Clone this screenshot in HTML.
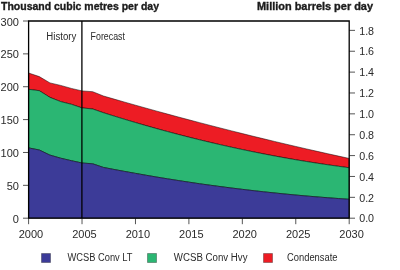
<!DOCTYPE html>
<html><head><meta charset="utf-8"><style>
html,body{margin:0;padding:0;background:#fff;width:400px;height:270px;overflow:hidden}
svg{display:block;will-change:transform}
text{font-family:"Liberation Sans",sans-serif;fill:#2a2a2a}
</style></head><body>
<svg width="400" height="270" viewBox="0 0 400 270">
<polygon points="28.60,73.00 39.29,76.60 49.97,82.90 60.66,85.40 71.35,88.40 82.03,90.90 92.72,91.70 103.41,95.98 114.09,99.08 124.78,102.15 135.47,105.18 146.15,108.18 156.84,111.14 167.53,114.07 178.21,116.96 188.90,119.82 199.59,122.64 210.27,125.42 220.96,128.18 231.65,130.89 242.33,133.57 253.02,136.22 263.71,138.82 274.39,141.40 285.08,143.94 295.77,146.44 306.45,148.91 317.14,151.34 327.83,153.74 338.51,156.10 349.20,158.43 349.20,167.72 338.51,166.30 327.83,164.80 317.14,163.20 306.45,161.52 295.77,159.75 285.08,157.89 274.39,155.94 263.71,153.90 253.02,151.77 242.33,149.56 231.65,147.26 220.96,144.87 210.27,142.39 199.59,139.82 188.90,137.16 178.21,134.42 167.53,131.58 156.84,128.66 146.15,125.65 135.47,122.56 124.78,119.37 114.09,116.09 103.41,112.73 92.72,109.00 82.03,107.90 71.35,104.30 60.66,101.60 49.97,97.40 39.29,90.70 28.60,89.30" fill="#ed1c24" stroke="#000" stroke-opacity="0.55" stroke-width="0.9"/>
<polygon points="28.60,89.30 39.29,90.70 49.97,97.40 60.66,101.60 71.35,104.30 82.03,107.90 92.72,109.00 103.41,112.73 114.09,116.09 124.78,119.37 135.47,122.56 146.15,125.65 156.84,128.66 167.53,131.58 178.21,134.42 188.90,137.16 199.59,139.82 210.27,142.39 220.96,144.87 231.65,147.26 242.33,149.56 253.02,151.77 263.71,153.90 274.39,155.94 285.08,157.89 295.77,159.75 306.45,161.52 317.14,163.20 327.83,164.80 338.51,166.30 349.20,167.72 349.20,199.29 338.51,198.55 327.83,197.76 317.14,196.91 306.45,196.01 295.77,195.04 285.08,194.02 274.39,192.94 263.71,191.80 253.02,190.61 242.33,189.35 231.65,188.04 220.96,186.67 210.27,185.24 199.59,183.76 188.90,182.17 178.21,180.53 167.53,178.83 156.84,177.08 146.15,175.26 135.47,173.39 124.78,171.46 114.09,169.47 103.41,167.43 92.72,163.80 82.03,163.00 71.35,160.70 60.66,158.20 49.97,155.10 39.29,150.00 28.60,147.90" fill="#2bb673" stroke="#000" stroke-opacity="0.55" stroke-width="0.9"/>
<polygon points="28.60,147.90 39.29,150.00 49.97,155.10 60.66,158.20 71.35,160.70 82.03,163.00 92.72,163.80 103.41,167.43 114.09,169.47 124.78,171.46 135.47,173.39 146.15,175.26 156.84,177.08 167.53,178.83 178.21,180.53 188.90,182.17 199.59,183.76 210.27,185.24 220.96,186.67 231.65,188.04 242.33,189.35 253.02,190.61 263.71,191.80 274.39,192.94 285.08,194.02 295.77,195.04 306.45,196.01 317.14,196.91 327.83,197.76 338.51,198.55 349.20,199.29 349.20,218.20 28.60,218.20" fill="#3c3b98" stroke="#000" stroke-opacity="0.55" stroke-width="0.9"/>
<text x="18.9" y="223" text-anchor="end" font-size="11">0</text>
<text x="18.9" y="190" text-anchor="end" font-size="11">50</text>
<text x="18.9" y="157" text-anchor="end" font-size="11">100</text>
<text x="18.9" y="124" text-anchor="end" font-size="11">150</text>
<text x="18.9" y="91" text-anchor="end" font-size="11">200</text>
<text x="18.9" y="58" text-anchor="end" font-size="11">250</text>
<text x="18.9" y="26" text-anchor="end" font-size="11">300</text>
<text x="359.2" y="222" font-size="10.7">0.0</text>
<text x="359.2" y="202" font-size="10.7">0.2</text>
<text x="359.2" y="181" font-size="10.7">0.4</text>
<text x="359.2" y="160" font-size="10.7">0.6</text>
<text x="359.2" y="139" font-size="10.7">0.8</text>
<text x="359.2" y="118" font-size="10.7">1.0</text>
<text x="359.2" y="97" font-size="10.7">1.2</text>
<text x="359.2" y="76" font-size="10.7">1.4</text>
<text x="359.2" y="55" font-size="10.7">1.6</text>
<text x="359.2" y="35" font-size="10.7">1.8</text>
<text x="31.00" y="238" text-anchor="middle" font-size="11">2000</text>
<text x="84.43" y="238" text-anchor="middle" font-size="11">2005</text>
<text x="137.87" y="238" text-anchor="middle" font-size="11">2010</text>
<text x="191.30" y="238" text-anchor="middle" font-size="11">2015</text>
<text x="244.73" y="238" text-anchor="middle" font-size="11">2020</text>
<text x="298.17" y="238" text-anchor="middle" font-size="11">2025</text>
<text x="351.60" y="238" text-anchor="middle" font-size="11">2030</text>
<path d="M23,218.20 H28.6 M23,185.33 H28.6 M23,152.47 H28.6 M23,119.60 H28.6 M23,86.73 H28.6 M23,53.87 H28.6 M23,21.00 H28.6 M349.2,218.20 H355 M349.2,197.33 H355 M349.2,176.46 H355 M349.2,155.59 H355 M349.2,134.72 H355 M349.2,113.85 H355 M349.2,92.98 H355 M349.2,72.11 H355 M349.2,51.24 H355 M349.2,30.37 H355 M28.60,218.2 V224.2 M82.03,218.2 V224.2 M135.47,218.2 V224.2 M188.90,218.2 V224.2 M242.33,218.2 V224.2 M295.77,218.2 V224.2 M349.20,218.2 V224.2" stroke="#555" stroke-width="1"/>
<path d="M28.6,21.0 H349.2 V218.2 H28.6 Z" fill="none" stroke="#000" stroke-width="1.3"/>
<path d="M81.9,21.0 V218.2" stroke="#000" stroke-width="1.3"/>
<text x="1" y="9.8" font-size="10.5" font-weight="bold" style="fill:#1c1c1c;stroke:#1c1c1c;stroke-width:0.35" textLength="158" lengthAdjust="spacingAndGlyphs">Thousand cubic metres per day</text>
<text x="373" y="10" font-size="10.5" font-weight="bold" style="fill:#1c1c1c;stroke:#1c1c1c;stroke-width:0.35" text-anchor="end" textLength="116" lengthAdjust="spacingAndGlyphs">Million barrels per day</text>
<text x="46.3" y="39.5" font-size="10" textLength="30" lengthAdjust="spacingAndGlyphs">History</text>
<text x="90.6" y="39.5" font-size="10" textLength="34.3" lengthAdjust="spacingAndGlyphs">Forecast</text>
<rect x="41.5" y="253.5" width="9" height="9" fill="#3c3b98" stroke="#000" stroke-opacity="0.3" stroke-width="1"/>
<rect x="147.5" y="253.5" width="9" height="9" fill="#2bb673" stroke="#000" stroke-opacity="0.3" stroke-width="1"/>
<rect x="263.5" y="253.5" width="9" height="9" fill="#ed1c24" stroke="#000" stroke-opacity="0.3" stroke-width="1"/>
<text x="67.5" y="260.8" font-size="10" textLength="65" lengthAdjust="spacingAndGlyphs">WCSB Conv LT</text>
<text x="173.8" y="260.8" font-size="10" textLength="73.7" lengthAdjust="spacingAndGlyphs">WCSB Conv Hvy</text>
<text x="287" y="260.8" font-size="10" textLength="50.5" lengthAdjust="spacingAndGlyphs">Condensate</text>
</svg>
</body></html>
